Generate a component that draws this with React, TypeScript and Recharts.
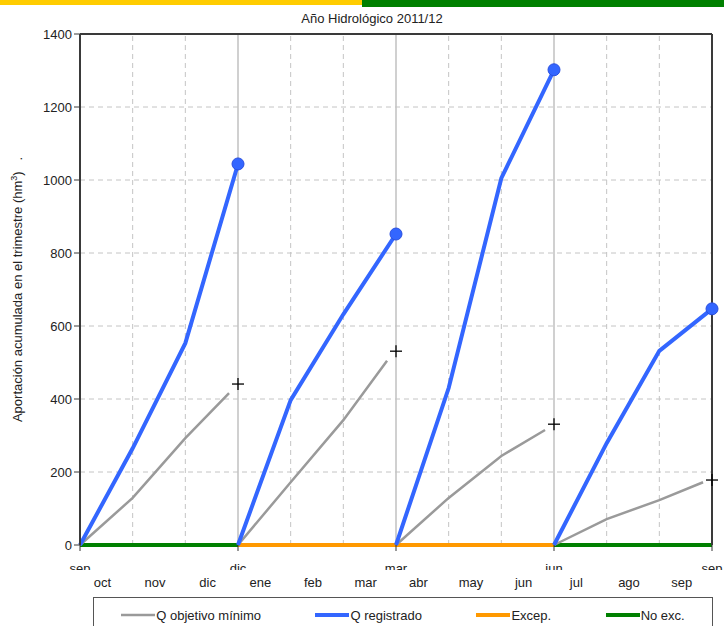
import React from 'react';
import { ComposedChart, Line, XAxis, YAxis, ReferenceLine } from 'recharts';

// month labels shown between grid lines, and labels at the quarter boundaries
const months = ['oct', 'nov', 'dic', 'ene', 'feb', 'mar', 'abr', 'may', 'jun', 'jul', 'ago', 'sep'];
const quarterLabels = ['sep', 'dic', 'mar', 'jun', 'sep'];
const quarterTicks = [0, 3, 6, 9, 12];
const monthTicks = [0.5, 1.5, 2.5, 3.5, 4.5, 5.5, 6.5, 7.5, 8.5, 9.5, 10.5, 11.5];
const yTicks = [0, 200, 400, 600, 800, 1000, 1200, 1400];

// accumulated flow per quarter (hm3), at month offsets 0..3
const registradoX = [0, 1, 2, 3];
const registrado = [
  [0, 265, 553, 1044],
  [0, 397, 632, 852],
  [0, 430, 1005, 1302],
  [0, 279, 532, 647],
];

// minimum objective, the curve stops a bit before the quarter end
const objetivoX = [0, 1, 2, 2.83];
const objetivo = [
  [0, 129, 293, 416],
  [0, 172, 342, 505],
  [0, 129, 244, 315],
  [0, 71, 123, 172],
];
// objective value at the end of each quarter ("+" marks)
const objetivoFinal = [441, 531, 331, 178];

// state of each quarter on the base line
const estado = ['No exc.', 'Excep.', 'Excep.', 'No exc.'];

const BLUE = '#3366ff';
const GRAY = '#9a9a9a';
const ORANGE = '#ff9900';
const GREEN = '#008000';
const FRAME = '#3a3a3a';
const FONT = '"Liberation Sans", Arial, sans-serif';

const quarterData = (xs: number[], vals: number[], q: number) =>
  xs.map((x, i) => ({ x: q * 3 + x, v: vals[i] }));

const endPoints = registrado.map((vals, q) => ({ x: q * 3 + 3, v: vals[vals.length - 1] }));
const plusPoints = objetivoFinal.map((v, q) => ({ x: q * 3 + 3, v }));
const basePoints = (q: number) => [{ x: q * 3, v: 0 }, { x: q * 3 + 3, v: 0 }];

const PlusMark = (props: any) => {
  const { cx, cy, index } = props;
  if (cx == null || cy == null) return <g key={`p${index}`} />;
  return (
    <g key={`p${index}`}>
      <line x1={cx - 6} y1={cy} x2={cx + 6} y2={cy} stroke="#000" strokeWidth={1.3} />
      <line x1={cx} y1={cy - 6} x2={cx} y2={cy + 6} stroke="#000" strokeWidth={1.3} />
    </g>
  );
};

const EndDot = (props: any) => {
  const { cx, cy, index } = props;
  if (cx == null || cy == null) return <g key={`d${index}`} />;
  return <circle key={`d${index}`} cx={cx} cy={cy} r={6} fill={BLUE} stroke="#2a4fe0" strokeWidth={1} />;
};

const QuarterTick = (props: any) => {
  const { x, y, index } = props;
  const id = `cut-${index}`;
  return (
    <g>
      <defs>
        <clipPath id={id}>
          <rect x={x - 30} y={y} width={60} height={17} />
        </clipPath>
      </defs>
      <text x={x} y={y + 20} textAnchor="middle" fontSize={13} fontFamily={FONT} fill="#222" clipPath={`url(#${id})`}>
        {quarterLabels[index]}
      </text>
    </g>
  );
};

const MonthTick = (props: any) => {
  const { x, y, index } = props;
  return (
    <text x={x - 4} y={y + 10} textAnchor="middle" fontSize={13} fontFamily={FONT} fill="#222">
      {months[index]}
    </text>
  );
};

const YLabel = (props: any) => {
  const vb = props.viewBox || {};
  const cy = (vb.y || 0) + (vb.height || 0) / 2;
  return (
    <text
      x={22}
      y={cy}
      transform={`rotate(-90 22 ${cy})`}
      textAnchor="middle"
      fontSize={13}
      fontFamily={FONT}
      fill="#222"
      style={{ whiteSpace: 'pre' }}
    >
      <tspan>Aportación acumulada en el trimestre (hm</tspan>
      <tspan dy={-5} fontSize={9}>3</tspan>
      <tspan dy={5}>)   .</tspan>
    </text>
  );
};

const legendItems = [
  { label: 'Q objetivo mínimo', color: GRAY, w: 2.5 },
  { label: 'Q registrado', color: BLUE, w: 4 },
  { label: 'Excep.', color: ORANGE, w: 4 },
  { label: 'No exc.', color: GREEN, w: 4 },
];

export default function App() {
  return (
    <div style={{ position: 'absolute', left: 0, top: 0, width: 724, height: 626, overflow: 'hidden', background: '#fff', fontFamily: FONT }}>
      <div style={{ position: 'absolute', left: 0, top: 0, width: 362, height: 5, background: '#ffcc00' }} />
      <div style={{ position: 'absolute', left: 362, top: 0, width: 362, height: 7, background: GREEN }} />
      <div style={{ position: 'absolute', left: 0, top: 11, width: 744, textAlign: 'center', fontSize: 13, color: '#222' }}>
        Año Hidrológico 2011/12
      </div>

      <ComposedChart width={724} height={626} margin={{ top: 34, right: 11, bottom: 29, left: 4 }}>
        <XAxis
          xAxisId={0}
          dataKey="x"
          type="number"
          domain={[0, 12]}
          ticks={quarterTicks}
          interval={0}
          height={24}
          axisLine={false}
          tickLine={{ stroke: '#333' }}
          tickSize={6}
          tick={<QuarterTick />}
        />
        <XAxis
          xAxisId="m"
          dataKey="x"
          type="number"
          domain={[0, 12]}
          ticks={monthTicks}
          interval={0}
          height={28}
          axisLine={false}
          tickLine={false}
          tick={<MonthTick />}
          allowDataOverflow
        />
        <YAxis
          type="number"
          domain={[0, 1400]}
          ticks={yTicks}
          interval={0}
          width={76}
          axisLine={{ stroke: FRAME, strokeWidth: 2 }}
          tickLine={{ stroke: FRAME }}
          tickSize={6}
          tick={{ fontSize: 13, fontFamily: FONT, fill: '#222' }}
          label={<YLabel />}
        />
        <YAxis
          yAxisId="r"
          orientation="right"
          type="number"
          domain={[0, 1400]}
          ticks={yTicks}
          width={1}
          tick={false}
          tickLine={false}
          axisLine={{ stroke: FRAME, strokeWidth: 2 }}
          allowDataOverflow
        />

        {yTicks.slice(1, -1).map((t) => (
          <ReferenceLine key={`h${t}`} y={t} stroke="#c4c4c4" strokeDasharray="5 4" />
        ))}
        {monthTicks.map((m) => {
          const x = m + 0.5;
          if (x >= 12) return null;
          const isQuarter = quarterTicks.includes(x);
          return (
            <ReferenceLine
              key={`v${x}`}
              x={x}
              stroke={isQuarter ? '#c0c0c0' : '#c4c4c4'}
              strokeWidth={isQuarter ? 1.5 : 1}
              strokeDasharray={isQuarter ? undefined : '5 4'}
            />
          );
        })}
        <ReferenceLine y={1400} stroke={FRAME} strokeWidth={2} ifOverflow="visible" />
        <ReferenceLine
          segment={[{ x: 12, y: 0 }, { x: 12, y: 1400 }]}
          stroke={FRAME}
          strokeWidth={2}
          ifOverflow="visible"
        />

        {estado.map((e, q) => (
          <Line
            key={`b${q}`}
            data={basePoints(q)}
            dataKey="v"
            stroke={e === 'Excep.' ? ORANGE : GREEN}
            strokeWidth={4}
            dot={false}
            isAnimationActive={false}
          />
        ))}
        {objetivo.map((vals, q) => (
          <Line
            key={`o${q}`}
            data={quarterData(objetivoX, vals, q)}
            dataKey="v"
            stroke={GRAY}
            strokeWidth={2.5}
            dot={false}
            isAnimationActive={false}
          />
        ))}
        {registrado.map((vals, q) => (
          <Line
            key={`r${q}`}
            data={quarterData(registradoX, vals, q)}
            dataKey="v"
            stroke={BLUE}
            strokeWidth={4}
            dot={false}
            isAnimationActive={false}
          />
        ))}
        <Line data={plusPoints} dataKey="v" stroke="none" dot={<PlusMark />} isAnimationActive={false} />
        <Line data={endPoints} dataKey="v" stroke="none" dot={<EndDot />} isAnimationActive={false} />
      </ComposedChart>

      <div
        style={{
          position: 'absolute',
          left: 93,
          top: 597,
          width: 618,
          height: 30,
          border: '1px solid #555',
          display: 'flex',
          alignItems: 'center',
          justifyContent: 'space-around',
          paddingTop: 2,
          fontSize: 13,
          color: '#222',
        }}
      >
        {legendItems.map((it) => (
          <div key={it.label} style={{ display: 'flex', alignItems: 'center' }}>
            <svg width={34} height={8}>
              <line x1={0} y1={4} x2={34} y2={4} stroke={it.color} strokeWidth={it.w} />
            </svg>
            <span style={{ marginLeft: 1 }}>{it.label}</span>
          </div>
        ))}
      </div>
    </div>
  );
}
